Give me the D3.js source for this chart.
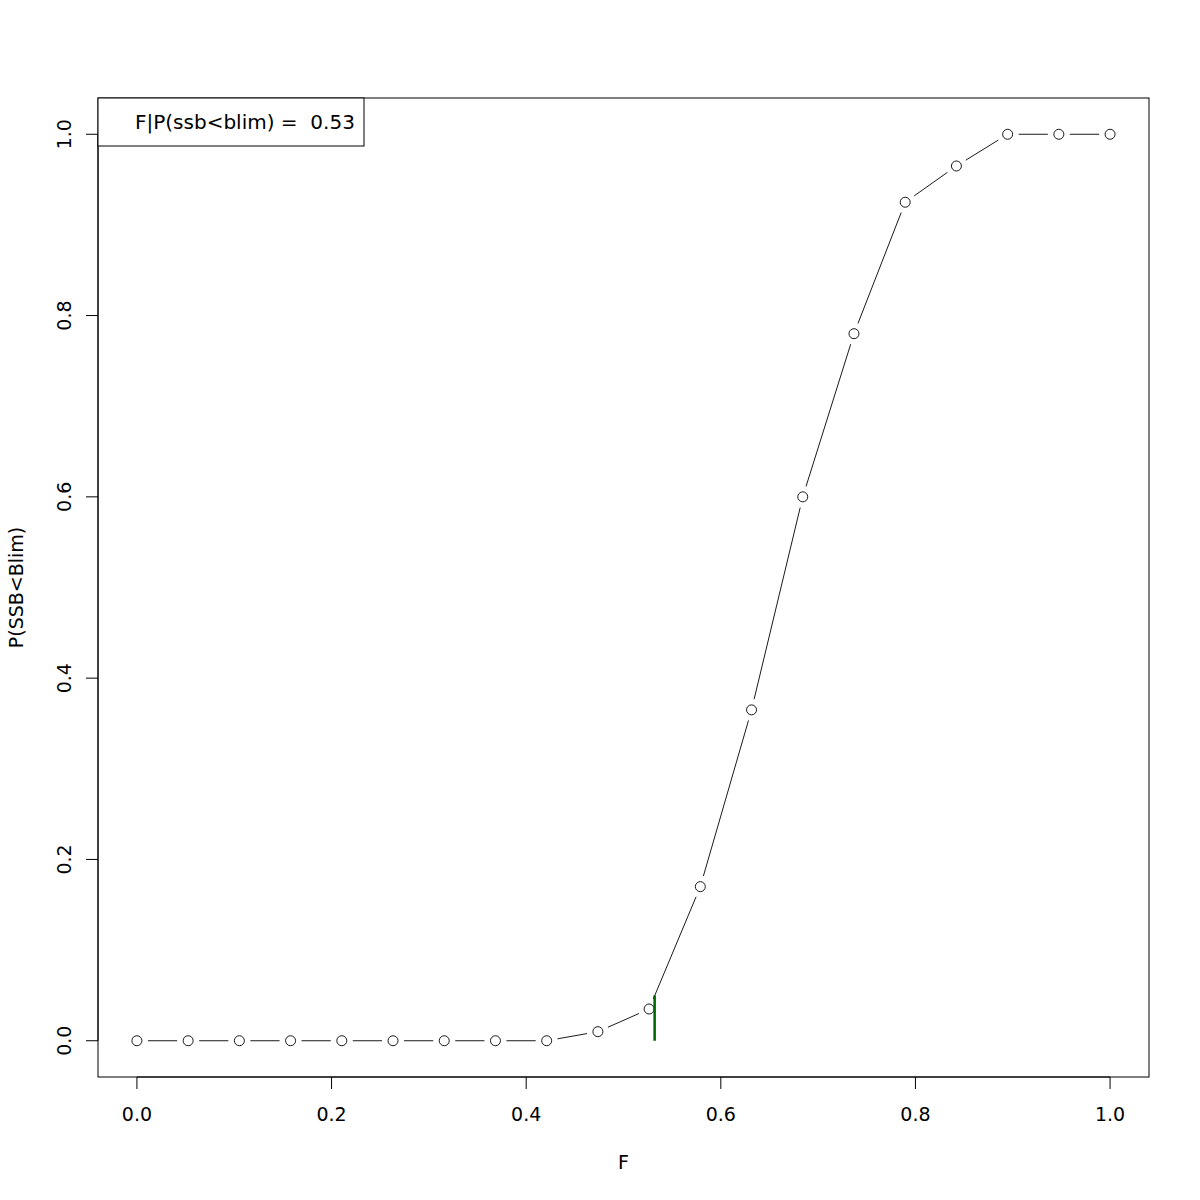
<!DOCTYPE html>
<html><head><meta charset="utf-8">
<script src="https://cdn.jsdelivr.net/npm/d3@7"></script>
<style>body{margin:0;background:#fff;} text{font-family:"DejaVu Sans",sans-serif;white-space:pre;}</style>
</head><body>
<svg id="c" width="1200" height="1200"></svg>
<script>
const fValues = [0,1/19,2/19,3/19,4/19,5/19,6/19,7/19,8/19,9/19,10/19,11/19,12/19,13/19,14/19,15/19,16/19,17/19,18/19,1];
const pValues = [0,0,0,0,0,0,0,0,0,0.01,0.035,0.17,0.365,0.6,0.78,0.925,0.965,1,1,1];
const xTicks = [0,0.2,0.4,0.6,0.8,1.0];
const yTicks = [0,0.2,0.4,0.6,0.8,1.0];
const fLim = 0.532;
const fLimTop = 0.05;
const legendText = "F|P(ssb<blim) =  0.53";

const svg = d3.select("#c");
const L=98,R=1149,T=98,B=1077;
const FS=19;
const x = d3.scaleLinear().domain([-0.04,1.04]).range([L,R]);
const y = d3.scaleLinear().domain([-0.04,1.04]).range([B,T]);

svg.append("rect").attr("x",L).attr("y",T).attr("width",R-L).attr("height",B-T)
  .attr("fill","none").attr("stroke","#000").attr("stroke-width",1);

// x axis
const gx = svg.append("g");
gx.append("line").attr("x1",x(0)).attr("x2",x(1)).attr("y1",B).attr("y2",B).attr("stroke","#000");
xTicks.forEach(t=>{
  gx.append("line").attr("x1",x(t)).attr("x2",x(t)).attr("y1",B).attr("y2",B+12).attr("stroke","#000");
  gx.append("text").attr("x",x(t)).attr("y",1121).attr("text-anchor","middle").attr("font-size",FS).text(t.toFixed(1));
});
// y axis
const gy = svg.append("g");
gy.append("line").attr("x1",L).attr("x2",L).attr("y1",y(0)).attr("y2",y(1)).attr("stroke","#000");
yTicks.forEach(t=>{
  gy.append("line").attr("x1",L-12).attr("x2",L).attr("y1",y(t)).attr("y2",y(t)).attr("stroke","#000");
  gy.append("text").attr("transform",`translate(71,${y(t)}) rotate(-90)`).attr("text-anchor","middle").attr("font-size",FS).text(t.toFixed(1));
});
svg.append("text").attr("x",(L+R)/2).attr("y",1169).attr("text-anchor","middle").attr("font-size",FS).text("F");
svg.append("text").attr("transform",`translate(23,${(T+B)/2}) rotate(-90)`).attr("text-anchor","middle").attr("font-size",FS).text("P(SSB<Blim)");

// lines with gaps (type "b")
const gap = 11;
const pts = fValues.map((f,i)=>[x(f),y(pValues[i])]);
for(let i=0;i<pts.length-1;i++){
  const [x1,y1]=pts[i],[x2,y2]=pts[i+1];
  const d=Math.hypot(x2-x1,y2-y1);
  if(d<=2*gap) continue;
  const ux=(x2-x1)/d, uy=(y2-y1)/d;
  svg.append("line").attr("x1",x1+ux*gap).attr("y1",y1+uy*gap).attr("x2",x2-ux*gap).attr("y2",y2-uy*gap)
    .attr("stroke","#000").attr("stroke-width",0.9);
}
svg.selectAll("circle.p").data(fValues).enter().append("circle")
  .attr("cx",d=>x(d)).attr("cy",(d,i)=>y(pValues[i])).attr("r",5)
  .attr("fill","none").attr("stroke","#000").attr("stroke-width",0.9);

// green line
svg.append("line").attr("x1",x(fLim)).attr("x2",x(fLim)).attr("y1",y(0)).attr("y2",y(fLimTop))
  .attr("stroke","#006400").attr("stroke-width",2.5);

// legend
svg.append("rect").attr("x",L).attr("y",T).attr("width",266).attr("height",48)
  .attr("fill","#fff").attr("stroke","#000").attr("stroke-width",1);
svg.append("text").attr("x",135).attr("y",129).attr("font-size",20).text(legendText);
</script>
</body></html>
